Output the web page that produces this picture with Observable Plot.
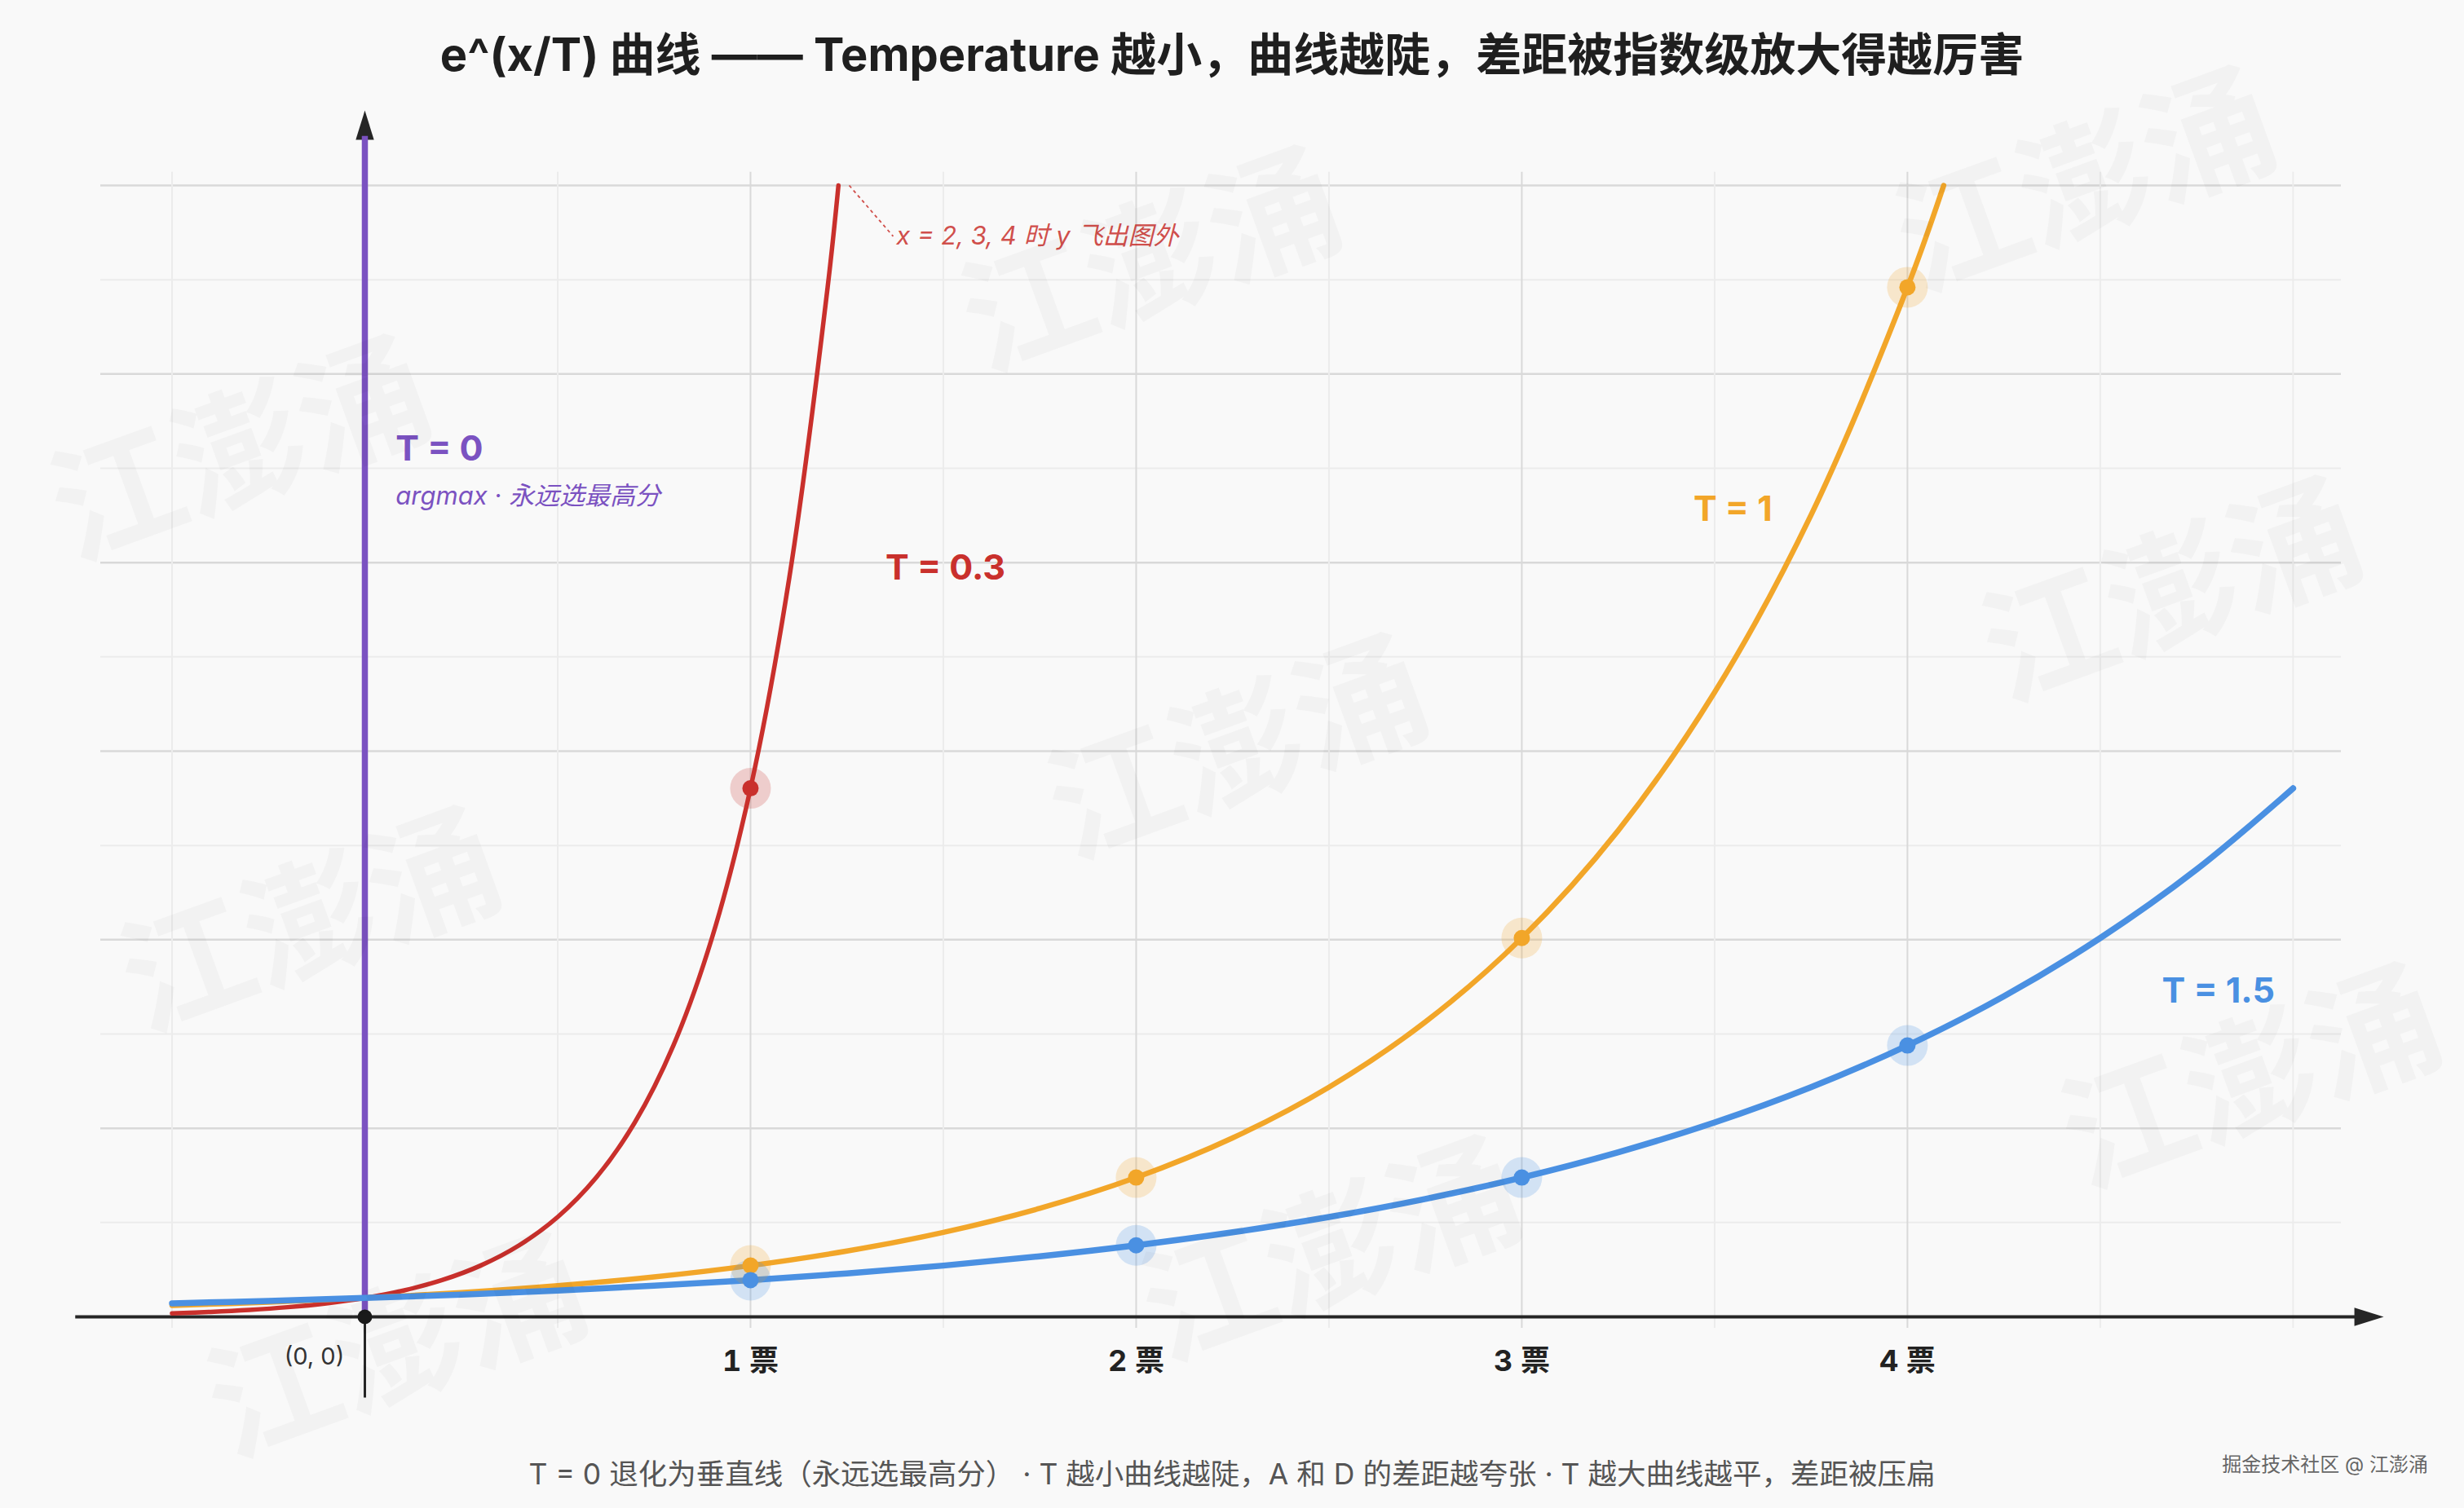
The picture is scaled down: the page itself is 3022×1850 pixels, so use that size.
<!DOCTYPE html>
<html>
<head>
<meta charset="utf-8">
<script src="https://cdn.jsdelivr.net/npm/d3@7"></script>
<script src="https://cdn.jsdelivr.net/npm/@observablehq/plot@0.6"></script>
<style>
  html, body { margin: 0; padding: 0; width: 3022px; height: 1850px; overflow: hidden; background: #f9f9f9; }
  body { position: relative; font-family: Inter, "Noto Sans CJK SC", "Noto Sans", sans-serif; }
  #chart { position: absolute; left: 0; top: 0; }
  .title { position: absolute; left: 0; width: 3022px; top: 22px; text-align: center; font-size: 56px; font-weight: 700; color: #1f1f1f; }
  .caption { position: absolute; left: 0; width: 3022px; top: 1780px; text-align: center; font-size: 35.5px; color: #555; }
  .credit { position: absolute; right: 44px; top: 1777px; font-size: 24px; color: #666; text-shadow: 1px 1px 0 #fff; }
  .wm { position: absolute; font-size: 160px; font-weight: 700; color: rgba(0,0,0,0.028); transform: translate(-50%,-50%) rotate(-20deg); white-space: nowrap; pointer-events: none; }
</style>
</head>
<body>
<div id="chart"></div>
<div class="title">e^(x/T) 曲线 —— Temperature 越小，曲线越陡，差距被指数级放大得越厉害</div>
<div class="caption">T = 0 退化为垂直线（永远选最高分） · T 越小曲线越陡，A 和 D 的差距越夸张 · T 越大曲线越平，差距被压扁</div>
<div class="credit">掘金技术社区 @ 江澎涌</div>
<script>
// ---- data ----
const xT15 = [-0.5,-0.25,0,0.25,0.5,0.75,1,1.25,1.5,1.75,2,2.25,2.5,2.75,3,3.25,3.5,3.75,4,4.25,4.5,4.75,5];
const yT15 = [0.717,0.846,1,1.181,1.396,1.649,1.948,2.301,2.718,3.211,3.794,4.482,5.294,6.254,7.389,8.729,10.31,12.18,14.39,17.00,20.09,23.73,28.03];
const xT1  = [-0.5,-0.25,0,0.25,0.5,0.75,1,1.25,1.5,1.75,2,2.25,2.5,2.75,3,3.25,3.5,3.75,4,4.094];
const yT1  = [0.607,0.779,1,1.284,1.649,2.117,2.718,3.490,4.482,5.755,7.389,9.488,12.18,15.64,20.09,25.79,33.12,42.52,54.60,60];
const xT03 = [-0.5,-0.4,-0.3,-0.2,-0.1,0,0.1,0.2,0.3,0.4,0.5,0.6,0.7,0.8,0.9,1.0,1.1,1.2,1.228];
const yT03 = [0.189,0.264,0.368,0.513,0.717,1,1.396,1.948,2.718,3.794,5.294,7.389,10.31,14.39,20.09,28.03,39.12,54.60,60];

const votes = [1, 2, 3, 4];
const voteLabels = ["1 票", "2 票", "3 票", "4 票"];
const dotT1  = [2.718, 7.389, 20.09, 54.60];
const dotT15 = [1.948, 3.794, 7.389, 14.39];
const dotT03 = [28.03];

const majorY = [10, 20, 30, 40, 50, 60];
const minorY = [5, 15, 25, 35, 45, 55];
const majorX = [1, 2, 3, 4];
const minorX = [-0.5, 0.5, 1.5, 2.5, 3.5, 4.5, 5];

const seriesNames = ["T = 0", "T = 0.3", "T = 1", "T = 1.5"];
const seriesColors = ["#7b52c1", "#c9302c", "#f2a629", "#4a90e2"];
const labelX = [0.08, 1.35, 3.445, 4.66];
const labelY = [46.0, 39.7, 42.8, 17.25];

const subLabel = "argmax · 永远选最高分";
const outNote = "x = 2, 3, 4 时 y 飞出图外";
const originLabel = "(0, 0)";

// ---- build tables ----
const zip = (xs, ys) => xs.map((x, i) => ({x, y: ys[i]}));
const lineT15 = zip(xT15, yT15), lineT1 = zip(xT1, yT1), lineT03 = zip(xT03, yT03);
const ptsT1 = zip(votes, dotT1), ptsT15 = zip(votes, dotT15), ptsT03 = zip(votes.slice(0, 1), dotT03);
const labels = seriesNames.map((t, i) => ({t, x: labelX[i], y: labelY[i], c: seriesColors[i]}));

const arrowHead = {
  draw(ctx, size) {
    const r = Math.sqrt(size / Math.PI);
    ctx.moveTo(r, 0);
    ctx.lineTo(-r, -0.62 * r);
    ctx.lineTo(-r, 0.62 * r);
    ctx.closePath();
  }
};

const [cPurple, cRed, cOrange, cBlue] = seriesColors;
const font = "Inter, 'Noto Sans CJK SC', sans-serif";

const chart = Plot.plot({
  width: 3022,
  height: 1850,
  marginTop: 227,
  marginBottom: 235,
  marginLeft: 123,
  marginRight: 151,
  style: {background: "transparent", fontFamily: font, overflow: "visible"},
  x: {domain: [-0.685, 5.125]},
  y: {domain: [0, 60], axis: null},
  marks: [
    // grid
    Plot.ruleY(minorY, {stroke: "#ececec", strokeWidth: 2}),
    Plot.ruleY(majorY, {stroke: "#d9d9d9", strokeWidth: 2.5}),
    Plot.ruleX(minorX, {y1: -0.6, y2: 60.7, stroke: "#ececec", strokeWidth: 2}),
    Plot.ruleX(majorX, {y1: -0.6, y2: 60.7, stroke: "#d9d9d9", strokeWidth: 2}),
    // axes
    Plot.ruleY([0], {x1: -0.75, x2: 5.18, stroke: "#262626", strokeWidth: 4}),
    Plot.dot([{x: 5.197, y: 0}], {x: "x", y: "y", r: 18, symbol: arrowHead, fill: "#262626", stroke: null}),
    Plot.ruleX([0], {y1: -4.3, y2: 62.6, stroke: "#262626", strokeWidth: 3}),
    Plot.dot([{x: 0, y: 63.2}], {x: "x", y: "y", r: 18, symbol: arrowHead, rotate: -90, fill: "#262626", stroke: null}),
    // T = 0 vertical
    Plot.ruleX([0], {y1: 0, y2: 62.6, stroke: cPurple, strokeWidth: 7.5}),
    // curves
    Plot.line(lineT03, {x: "x", y: "y", stroke: cRed, strokeWidth: 5.5, curve: "catmull-rom"}),
    Plot.line(lineT1, {x: "x", y: "y", stroke: cOrange, strokeWidth: 6.5, curve: "catmull-rom"}),
    Plot.line(lineT15, {x: "x", y: "y", stroke: cBlue, strokeWidth: 7.5, curve: "catmull-rom"}),
    // halos + dots
    Plot.dot(ptsT03, {x: "x", y: "y", r: 25, fill: cRed, fillOpacity: 0.22, stroke: null}),
    Plot.dot(ptsT1, {x: "x", y: "y", r: 25, fill: cOrange, fillOpacity: 0.22, stroke: null}),
    Plot.dot(ptsT15, {x: "x", y: "y", r: 25, fill: cBlue, fillOpacity: 0.22, stroke: null}),
    Plot.dot(ptsT03, {x: "x", y: "y", r: 10, fill: cRed, stroke: null}),
    Plot.dot(ptsT1, {x: "x", y: "y", r: 10, fill: cOrange, stroke: null}),
    Plot.dot(ptsT15, {x: "x", y: "y", r: 10, fill: cBlue, stroke: null}),
    // origin
    Plot.dot([{x: 0, y: 0}], {x: "x", y: "y", r: 9, fill: "#1a1a1a", stroke: null}),
    Plot.text([originLabel], {x: 0, y: 0, text: d => d, dx: -62, dy: 49, fontSize: 29, fill: "#333"}),
    // x tick labels
    Plot.axisX(votes, {tickFormat: (d) => voteLabels[votes.indexOf(d)], tickSize: 0, tickPadding: 41, fontSize: 36, fontWeight: "bold", fill: "#222", label: null}),
    // series labels
    Plot.text(labels, {x: "x", y: "y", text: "t", fill: "c", textAnchor: "start", fontSize: 43, fontWeight: "bold"}),
    Plot.text([subLabel], {x: labelX[0], y: 43.5, text: d => d, fill: cPurple, textAnchor: "start", fontSize: 31, fontStyle: "italic"}),
    // out-of-frame note
    Plot.link([{x1: 1.256, y1: 60, x2: 1.37, y2: 57.3}], {x1: "x1", y1: "y1", x2: "x2", y2: "y2", stroke: cRed, strokeWidth: 1.8, strokeDasharray: "4,4", strokeOpacity: 0.85}),
    Plot.text([outNote], {x: 1.378, y: 57.3, text: d => d, fill: cRed, fillOpacity: 0.85, textAnchor: "start", fontSize: 31, fontStyle: "italic"})
  ]
});
document.getElementById("chart").appendChild(chart);

// faint background watermarks
const wmText = "江澎涌";
const wmPos = [[290,540],[1407,308],[1513,906],[2553,210],[2659,713],[376,1118],[1628,1522],[2756,1310],[482,1640]];
for (const [x, y] of wmPos) {
  const s = document.createElement("div");
  s.className = "wm";
  s.style.left = x + "px";
  s.style.top = y + "px";
  s.textContent = wmText;
  document.body.appendChild(s);
}
</script>
</body>
</html>
